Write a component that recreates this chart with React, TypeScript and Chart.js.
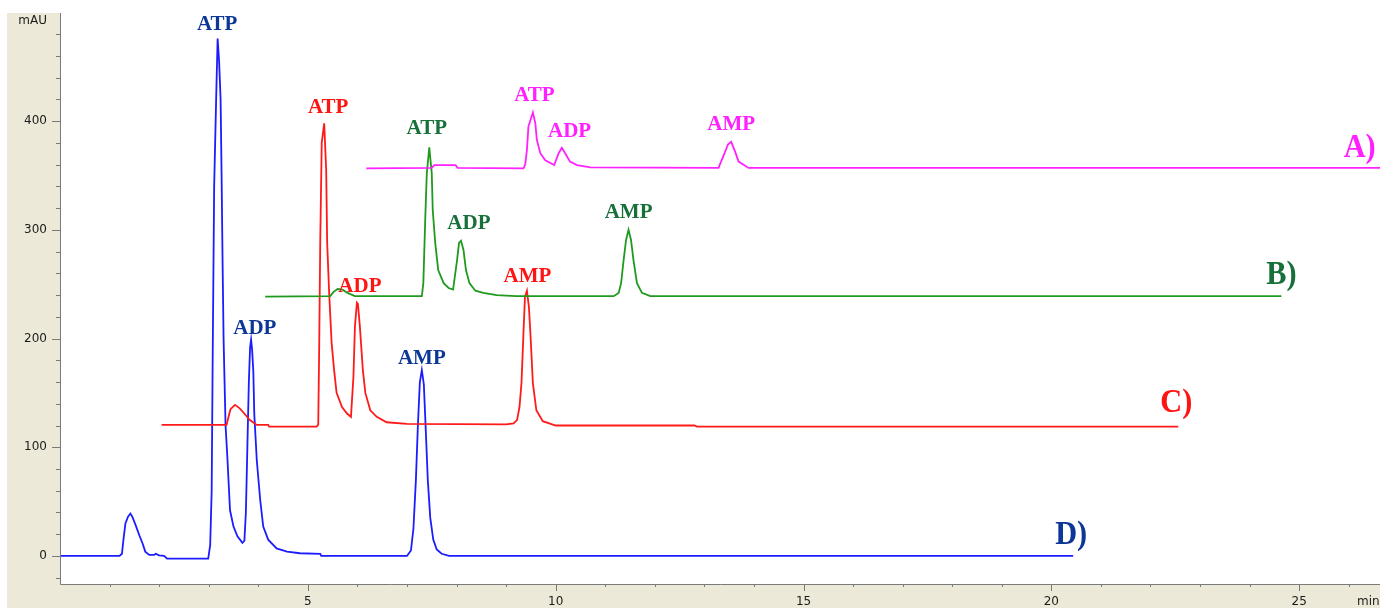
import React, { useEffect, useRef } from "react";
import { Chart, registerables } from "chart.js";

Chart.register(...registerables);

// ---- Data (time in min, signal in mAU) ----
const traceA: [number, number][] = [
  [6.18, 356.6], [7.50, 357], [7.55, 359.5], [7.98, 359.5], [8.02, 357], [9.35, 356.6],
  [9.385, 360], [9.42, 373.5], [9.45, 395], [9.54, 408], [9.59, 398], [9.62, 382.7],
  [9.69, 370.5], [9.79, 364], [9.97, 359.6], [10.06, 370.5], [10.125, 375.6], [10.19, 370.5],
  [10.29, 362.8], [10.43, 359.6], [10.70, 357.4], [13.285, 357], [13.42, 372], [13.475, 378.5],
  [13.54, 381], [13.62, 372], [13.69, 362.8], [13.89, 357], [26.8, 357],
];

const traceB: [number, number][] = [
  [4.14, 238.6], [5.45, 239], [5.52, 243], [5.60, 245.6], [5.70, 245], [5.80, 242], [5.95, 239],
  [7.30, 239], [7.33, 251], [7.37, 312], [7.40, 352], [7.45, 376], [7.50, 352], [7.52, 318],
  [7.57, 288], [7.63, 263], [7.74, 251], [7.84, 246.5], [7.93, 245], [8.01, 272], [8.05, 288],
  [8.09, 290], [8.14, 281.5], [8.19, 263], [8.26, 251], [8.38, 244], [8.54, 242], [8.81, 240],
  [9.2, 239], [11.17, 239], [11.27, 242], [11.32, 251], [11.37, 272], [11.42, 290.7], [11.47, 300],
  [11.52, 290.7], [11.57, 272], [11.64, 251], [11.74, 242], [11.91, 239], [24.64, 239],
];

const traceC: [number, number][] = [
  [2.05, 120.5], [3.36, 120.5], [3.40, 128], [3.44, 135], [3.53, 139], [3.62, 136], [3.70, 132],
  [3.83, 125], [3.97, 120.5], [4.20, 120.5], [4.22, 119], [5.18, 119], [5.21, 121], [5.23, 196],
  [5.25, 288], [5.28, 380], [5.33, 398], [5.37, 355], [5.39, 288], [5.43, 242], [5.48, 196],
  [5.53, 171], [5.58, 150], [5.69, 137], [5.79, 131], [5.87, 128], [5.92, 165], [5.95, 211],
  [5.99, 233], [6.01, 232], [6.05, 211], [6.11, 171], [6.16, 150], [6.26, 134], [6.39, 128],
  [6.59, 123], [7.0, 121.5], [9.0, 121], [9.15, 122], [9.22, 125], [9.27, 137], [9.31, 159],
  [9.35, 205], [9.38, 238], [9.42, 244], [9.46, 229], [9.49, 205], [9.54, 159], [9.61, 134],
  [9.74, 124], [10.0, 120], [12.8, 120], [12.85, 119], [22.56, 119],
];

const traceD: [number, number][] = [
  [0, 0], [1.20, 0], [1.25, 2], [1.28, 15], [1.32, 30], [1.37, 36], [1.42, 39], [1.46, 36],
  [1.52, 29], [1.60, 19], [1.67, 11], [1.72, 4], [1.80, 1], [1.90, 1], [1.93, 2], [2.00, 0.5],
  [2.10, 0], [2.16, -2.5], [2.99, -2.5], [3.03, 10], [3.06, 60], [3.08, 180], [3.11, 340],
  [3.15, 420], [3.18, 476], [3.21, 455], [3.24, 420], [3.26, 350], [3.28, 270], [3.30, 200],
  [3.32, 160], [3.34, 120], [3.376, 91], [3.43, 42], [3.50, 27], [3.58, 18], [3.68, 12],
  [3.72, 14], [3.75, 40], [3.78, 100], [3.81, 160], [3.835, 192], [3.855, 199], [3.875, 190],
  [3.90, 170], [3.92, 130], [3.95, 105], [3.97, 88], [4.04, 51], [4.10, 27], [4.20, 15],
  [4.37, 7], [4.58, 4], [4.84, 2.5], [5.25, 2], [5.27, 0], [7.00, 0], [7.08, 5], [7.13, 25],
  [7.18, 70], [7.22, 120], [7.26, 160], [7.30, 171], [7.34, 158], [7.38, 115], [7.42, 70],
  [7.47, 35], [7.53, 15], [7.60, 6], [7.70, 2], [7.85, 0], [20.44, 0],
];

// peak / trace labels: [text, time, mAU (baseline), group]
const peakLabels: [string, number, number, string][] = [
  ["ATP", 3.17, 484, "D"], ["ADP", 3.93, 204, "D"], ["AMP", 7.30, 176.6, "D"],
  ["ATP", 5.41, 407.5, "C"], ["ADP", 6.05, 243, "C"], ["AMP", 9.43, 252, "C"],
  ["ATP", 7.40, 388, "B"], ["ADP", 8.25, 301, "B"], ["AMP", 11.47, 311, "B"],
  ["ATP", 9.57, 418.6, "A"], ["ADP", 10.28, 385.5, "A"], ["AMP", 13.54, 392, "A"],
];
const traceLabels: [string, number, number, string][] = [
  ["A)", 26.22, 367, "A"], ["B)", 24.64, 250, "B"], ["C)", 22.52, 132.5, "C"], ["D)", 20.40, 11, "D"],
];

const yTickValues = [-20, 0, 20, 40, 60, 80, 100, 120, 140, 160, 180, 200, 220, 240, 260, 280, 300, 320, 340, 360, 380, 400, 420, 440, 460, 480];
const yTickLabels = [0, 100, 200, 300, 400];
const xTickValues = [1, 2, 3, 4, 5, 6, 7, 8, 9, 10, 11, 12, 13, 14, 15, 16, 17, 18, 19, 20, 21, 22, 23, 24, 25, 26];
const xTickLabels = [5, 10, 15, 20, 25];

const X_MIN = 0;
const X_MAX = 26.63;
const Y_MIN = -25.8;
const Y_MAX = 499.5;

const lineColors: Record<string, string> = {
  A: "#ff22ff",
  B: "#1f9a1f",
  C: "#ff1a1a",
  D: "#1c1cff",
};
const textColors: Record<string, string> = {
  A: "#ff1fff",
  B: "#17703a",
  C: "#ff1414",
  D: "#0d3796",
};

const frameColor = "#ECE9D8";
const axisColor = "#7a7a7a";

const backgroundPlugin = {
  id: "bgFrame",
  beforeDraw(chart: any) {
    const { ctx, chartArea: ca, width, height } = chart;
    ctx.save();
    ctx.fillStyle = "#ffffff";
    ctx.fillRect(0, 0, width, height);
    ctx.fillStyle = frameColor;
    ctx.fillRect(ca.left - 53, ca.top, width - (ca.left - 53), height - ca.top);
    ctx.fillStyle = "#ffffff";
    ctx.fillRect(ca.left, ca.top, ca.right - ca.left, ca.bottom - ca.top);
    ctx.restore();
  },
};

const axesPlugin = {
  id: "axesDraw",
  afterDraw(chart: any) {
    const { ctx, chartArea: ca, scales } = chart;
    const xs = scales.x;
    const ys = scales.y;
    ctx.save();
    ctx.strokeStyle = axisColor;
    ctx.lineWidth = 1;
    ctx.beginPath();
    ctx.moveTo(ca.left + 0.5, ca.top);
    ctx.lineTo(ca.left + 0.5, ca.bottom + 0.5);
    ctx.lineTo(ca.right, ca.bottom + 0.5);
    ctx.stroke();

    ctx.fillStyle = "#1a1a1a";
    ctx.font = "12px 'DejaVu Sans', sans-serif";
    // y ticks
    ctx.beginPath();
    yTickValues.forEach((v) => {
      const py = Math.round(ys.getPixelForValue(v)) + 0.5;
      const major = yTickLabels.includes(v);
      const len = major ? 8 : 4;
      ctx.moveTo(ca.left - len, py);
      ctx.lineTo(ca.left, py);
    });
    ctx.stroke();
    ctx.textAlign = "right";
    ctx.textBaseline = "middle";
    yTickLabels.forEach((v) => {
      ctx.fillText(String(v), ca.left - 13, ys.getPixelForValue(v));
    });
    ctx.fillText("mAU", ca.left - 13, ca.top + 8);

    // x ticks
    ctx.beginPath();
    xTickValues.forEach((t) => {
      const px = Math.round(xs.getPixelForValue(t)) + 0.5;
      const major = xTickLabels.includes(t);
      const len = major ? 7 : 3;
      ctx.moveTo(px, ca.bottom);
      ctx.lineTo(px, ca.bottom + len);
    });
    ctx.stroke();
    ctx.textAlign = "center";
    xTickLabels.forEach((t) => {
      ctx.fillText(String(t), xs.getPixelForValue(t), ca.bottom + 18);
    });
    ctx.textAlign = "left";
    ctx.fillText("min", ca.right - 23, ca.bottom + 18);
    ctx.restore();
  },
};

const labelsPlugin = {
  id: "peakLabels",
  afterDatasetsDraw(chart: any) {
    const { ctx, scales } = chart;
    ctx.save();
    ctx.textBaseline = "alphabetic";
    ctx.textAlign = "center";
    ctx.font = "bold 21px 'Liberation Serif', 'Times New Roman', serif";
    peakLabels.forEach(([text, t, v, g]) => {
      ctx.fillStyle = textColors[g];
      ctx.fillText(text, scales.x.getPixelForValue(t), scales.y.getPixelForValue(v));
    });
    ctx.font = "bold 33px 'Liberation Serif', 'Times New Roman', serif";
    traceLabels.forEach(([text, t, v, g]) => {
      ctx.fillStyle = textColors[g];
      const px = scales.x.getPixelForValue(t);
      const py = scales.y.getPixelForValue(v);
      ctx.save();
      ctx.translate(px, py);
      ctx.scale(0.92, 1);
      ctx.fillText(text, 0, 0);
      ctx.restore();
    });
    ctx.restore();
  },
};

function toPoints(trace: [number, number][]) {
  return trace.map(([x, y]) => ({ x, y }));
}

export default function App() {
  const canvasRef = useRef<HTMLCanvasElement | null>(null);

  useEffect(() => {
    document.body.style.margin = "0";
    const canvas = canvasRef.current;
    if (!canvas) return;
    const series: [string, [number, number][]][] = [
      ["A", traceA],
      ["B", traceB],
      ["C", traceC],
      ["D", traceD],
    ];
    const chart = new Chart(canvas, {
      type: "line",
      data: {
        datasets: series.map(([g, tr]) => ({
          label: g,
          data: toPoints(tr),
          borderColor: lineColors[g],
          borderWidth: 1.8,
          pointRadius: 0,
          tension: 0,
          fill: false,
        })),
      },
      options: {
        animation: false,
        responsive: false,
        devicePixelRatio: 1,
        parsing: false as any,
        layout: { padding: { left: 60, top: 13, right: 0, bottom: 24 } },
        plugins: {
          legend: { display: false },
          tooltip: { enabled: false },
        },
        scales: {
          x: { type: "linear", min: X_MIN, max: X_MAX, display: false },
          y: { type: "linear", min: Y_MIN, max: Y_MAX, display: false },
        },
      },
      plugins: [backgroundPlugin, axesPlugin, labelsPlugin],
    });
    return () => chart.destroy();
  }, []);

  return (
    <div style={{ position: "absolute", left: 0, top: 0, width: 1380, height: 608 }}>
      <canvas ref={canvasRef} width={1380} height={608} style={{ display: "block" }} />
    </div>
  );
}
